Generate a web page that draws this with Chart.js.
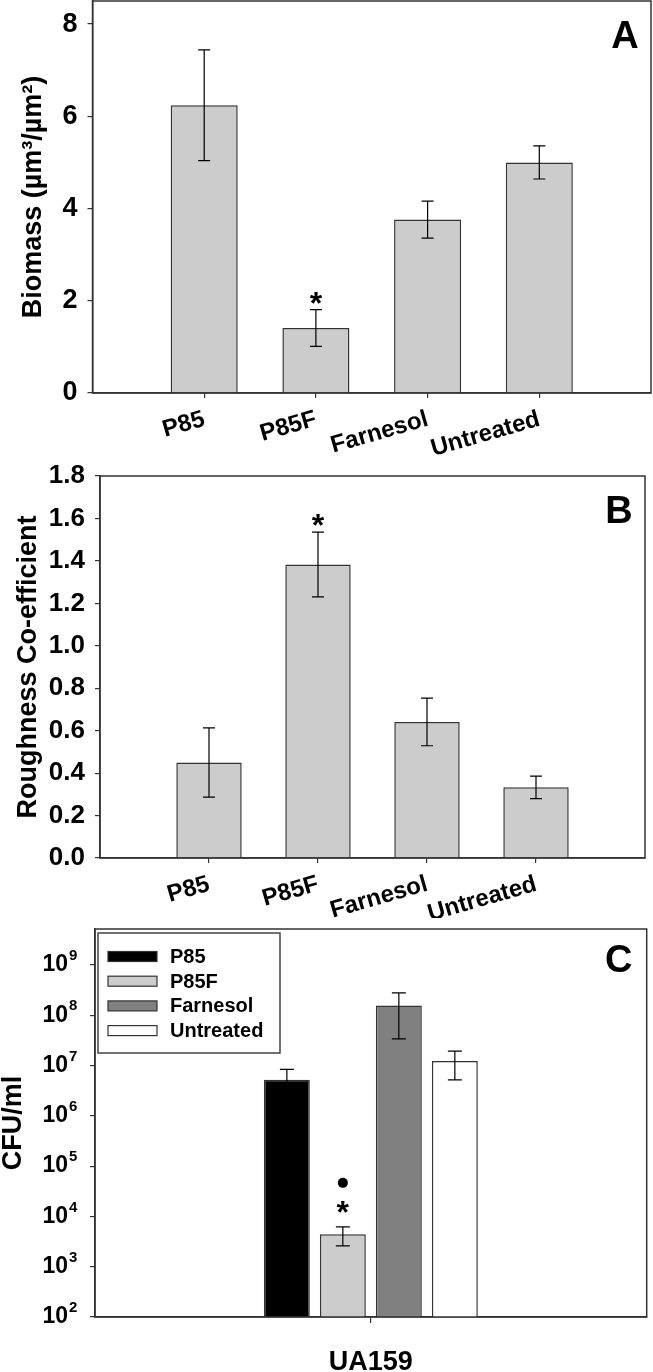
<!DOCTYPE html>
<html lang="en">
<head>
<meta charset="UTF-8">
<title>Biomass, roughness and CFU</title>
<script src="https://cdn.jsdelivr.net/npm/chart.js"></script>
<style>
  body { margin: 0; background: #fff; }
  .panel { position: absolute; left: 0; width: 653px; }
</style>
</head>
<body>
<div class="panel" style="top:0;height:455px"><canvas id="chartA" width="653" height="455"></canvas></div>
<div class="panel" style="top:455px;height:463px"><canvas id="chartB" width="653" height="463"></canvas></div>
<div class="panel" style="top:918px;height:454px"><canvas id="chartC" width="653" height="454"></canvas></div>
<script>
// Data
const categories = ['P85', 'P85F', 'Farnesol', 'Untreated'];

// Panel A - biomass
const biomass = [6.24, 1.41, 3.76, 5.00];
const biomassErr = [1.20, 0.40, 0.40, 0.36];
const biomassMarks = [[], ['*'], [], []];
const biomassTicks = [0, 2, 4, 6, 8];

// Panel B - roughness
const roughness = [0.45, 1.383, 0.641, 0.333];
const roughnessErr = [0.163, 0.153, 0.112, 0.053];
const roughnessMarks = [[], ['*'], [], []];
const roughnessTicks = [0, 0.2, 0.4, 0.6, 0.8, 1.0, 1.2, 1.4, 1.6, 1.8];

// Panel C - CFU/ml
const strains = ['UA159'];
const cfu = [5.2e6, 4.4e3, 1.57e8, 1.23e7];
const cfuErr = [3.2e6, 1.8e3, 1.23e8, 0.71e7];
const cfuMarks = [[], ['*', '●'], [], []];
const cfuColors = ['#000000', '#cccccc', '#808080', '#ffffff'];
const cfuTicks = [1e2, 1e3, 1e4, 1e5, 1e6, 1e7, 1e8, 1e9];

const FONT = '"Liberation Sans", Arial, sans-serif';

// error bars, significance marks, frame, panel letter, legend box
const extras = {
  id: 'extras',
  afterDatasetsDraw(chart, args, opts) {
    const ctx = chart.ctx, ys = chart.scales.y, area = chart.chartArea;
    ctx.save();
    chart.data.datasets.forEach((ds, di) => {
      const meta = chart.getDatasetMeta(di);
      meta.data.forEach((bar, i) => {
        const v = ds.data[i];
        const e = ds.errors ? ds.errors[i] : null;
        if (v == null || e == null) return;
        const x = bar.x;
        const yHi = ys.getPixelForValue(v + e);
        const yLo = ys.getPixelForValue(v - e);
        ctx.strokeStyle = '#000';
        ctx.lineWidth = 1.2;
        ctx.beginPath();
        ctx.moveTo(x, yLo); ctx.lineTo(x, yHi);
        ctx.moveTo(x - opts.cap, yHi); ctx.lineTo(x + opts.cap, yHi);
        ctx.moveTo(x - opts.cap, yLo); ctx.lineTo(x + opts.cap, yLo);
        ctx.stroke();

        const marks = ds.marks ? ds.marks[i] : [];
        marks.forEach((m, k) => {
          const cy = yHi - opts.markGap - k * 24;
          ctx.fillStyle = '#000';
          if (m === '●') {
            ctx.beginPath();
            ctx.arc(x, cy, 5, 0, Math.PI * 2);
            ctx.fill();
          } else {
            ctx.font = 'bold 32px ' + FONT;
            ctx.textAlign = 'center';
            ctx.textBaseline = 'alphabetic';
            const mt = ctx.measureText(m);
            ctx.fillText(m, x, cy + (mt.actualBoundingBoxAscent - mt.actualBoundingBoxDescent) / 2);
          }
        });
      });
    });

    // frame around plot
    ctx.strokeStyle = '#333';
    ctx.lineWidth = 1.5;
    ctx.strokeRect(area.left, area.top, area.right - area.left, area.bottom - area.top);

    // panel letter
    ctx.fillStyle = '#000';
    ctx.font = 'bold 38px ' + FONT;
    ctx.textAlign = 'center';
    ctx.textBaseline = 'middle';
    ctx.fillText(opts.letter, area.right - opts.letterDx, area.top + opts.letterDy);

    // exponents for the log axis labels ("10" is drawn by the scale)
    if (opts.exponents) {
      ctx.font = 'bold 15px ' + FONT;
      ctx.textAlign = 'left';
      ctx.textBaseline = 'middle';
      ys.ticks.forEach(t => {
        const y = ys.getPixelForValue(t.value);
        ctx.fillText(String(Math.round(Math.log10(t.value))), ys.right - 5 - opts.tickPad + 1, y - 9);
      });
    }

    if (opts.legend) {
      const bx = area.left + 3, by = area.top + 4;
      ctx.fillStyle = '#fff';
      ctx.fillRect(bx, by, 182, 120);
      ctx.strokeStyle = '#444';
      ctx.lineWidth = 1.5;
      ctx.strokeRect(bx, by, 182, 120);
      chart.data.datasets.forEach((ds, i) => {
        const cy = by + 23.5 + i * 24.7;
        ctx.fillStyle = ds.backgroundColor;
        ctx.fillRect(bx + 10, cy - 5, 49, 10);
        ctx.strokeStyle = '#333';
        ctx.lineWidth = 1.2;
        ctx.strokeRect(bx + 10, cy - 5, 49, 10);
        ctx.fillStyle = '#000';
        ctx.font = 'bold 20px ' + FONT;
        ctx.textAlign = 'left';
        ctx.textBaseline = 'middle';
        ctx.fillText(ds.label, bx + 72, cy + 1);
      });
    }
    ctx.restore();
  }
};

function fixWidth(w) {
  return s => { s.width = w; s.paddingTop = 0; s.paddingBottom = 0; };
}
function fixHeight(h) {
  return s => { s.height = h; s.paddingLeft = 0; s.paddingRight = 0; };
}

function yAxis(cfg) {
  return Object.assign({
    afterBuildTicks: s => { s.ticks = cfg.tickValues.map(v => ({ value: v })); },
    afterFit: fixWidth(cfg.width),
    grid: { drawOnChartArea: false, drawTicks: true, tickLength: 5, color: '#333', lineWidth: 1.2 },
    border: { display: true, color: '#333', width: 1.5 },
    ticks: { color: '#000', font: { family: FONT, size: cfg.tickSize, weight: 'bold' }, padding: cfg.tickPad || 10, callback: cfg.fmt },
    title: {
      display: true, text: cfg.title, color: '#000',
      font: { family: FONT, size: 27, weight: 'bold', lineHeight: 1 },
      padding: { top: cfg.titlePad, bottom: 0 }
    }
  }, cfg.extra);
}

function categoryChart(id, values, errors, marks, yCfg, xHeight, pad, letter) {
  const labels = ['', ...categories, ''];
  new Chart(document.getElementById(id), {
    type: 'bar',
    data: {
      labels: labels,
      datasets: [{
        data: [null, ...values, null],
        errors: [null, ...errors, null],
        marks: [[], ...marks, []],
        backgroundColor: '#cccccc',
        borderColor: '#333',
        borderWidth: 1.5,
        barPercentage: 0.6,
        categoryPercentage: 1
      }]
    },
    options: {
      responsive: false,
      animation: false,
      layout: { padding: pad },
      plugins: {
        legend: { display: false },
        tooltip: { enabled: false },
        extras: { cap: 6, markGap: 12, letter: letter, letterDx: 26, letterDy: 37 }
      },
      scales: {
        x: {
          offset: false,
          afterFit: fixHeight(xHeight),
          grid: {
            offset: false, drawOnChartArea: false, drawTicks: true, tickLength: 5, lineWidth: 1.2,
            color: c => (c.index === 0 || c.index === labels.length - 1) ? 'rgba(0,0,0,0)' : '#333'
          },
          border: { display: true, color: '#333', width: 1.5 },
          ticks: {
            color: '#000', autoSkip: false, minRotation: 16, maxRotation: 16, padding: 7,
            font: { family: FONT, size: 24, weight: 'bold' }
          }
        },
        y: yAxis(yCfg)
      }
    },
    plugins: [extras]
  });
}

categoryChart('chartA', biomass, biomassErr, biomassMarks, {
  tickValues: biomassTicks, width: 92.5, tickSize: 27, fmt: v => String(v),
  title: 'Biomass (µm³/µm²)', titlePad: 20, extra: { min: 0, max: 8.5 }
}, 62, { top: 1, right: 2, left: 0, bottom: 0 }, 'A');

categoryChart('chartB', roughness, roughnessErr, roughnessMarks, {
  tickValues: roughnessTicks, width: 100, tickSize: 26, fmt: v => v.toFixed(1),
  title: 'Roughness Co-efficient', titlePad: 15.5, extra: { min: 0, max: 1.8 }
}, 60, { top: 21, right: 8, left: 0, bottom: 0 }, 'B');

new Chart(document.getElementById('chartC'), {
  type: 'bar',
  data: {
    labels: strains,
    datasets: categories.map((name, i) => ({
      label: name,
      data: [cfu[i]],
      errors: [cfuErr[i]],
      marks: [cfuMarks[i]],
      backgroundColor: cfuColors[i],
      borderColor: '#333',
      borderWidth: 1.5,
      barPercentage: 0.82,
      categoryPercentage: 0.406
    }))
  },
  options: {
    responsive: false,
    animation: false,
    layout: { padding: { top: 11, right: 6.3, left: 0, bottom: 0 } },
    plugins: {
      legend: { display: false },
      tooltip: { enabled: false },
      extras: { cap: 7, markGap: 20, letter: 'C', letterDx: 28, letterDy: 33, legend: true, exponents: true, tickPad: 22 }
    },
    scales: {
      x: {
        afterFit: fixHeight(55),
        grid: { offset: false, drawOnChartArea: false, drawTicks: true, tickLength: 6, color: '#333', lineWidth: 1.2 },
        border: { display: true, color: '#333', width: 1.5 },
        ticks: { color: '#000', padding: 23, font: { family: FONT, size: 27, weight: 'bold' } }
      },
      y: yAxis({
        tickValues: cfuTicks, width: 95, tickSize: 23, tickPad: 22,
        fmt: () => '10',
        title: 'CFU/ml', titlePad: 0,
        extra: { type: 'logarithmic', min: 100, max: 5.2e9 }
      })
    }
  },
  plugins: [extras]
});
</script>
</body>
</html>
